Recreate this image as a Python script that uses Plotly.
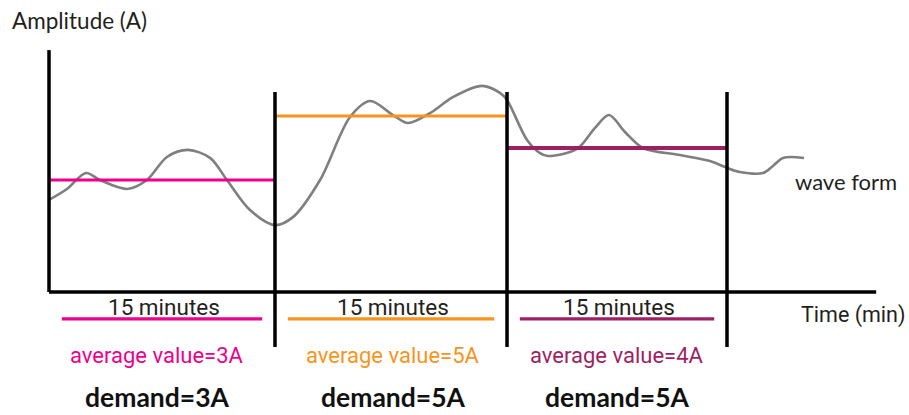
import plotly.graph_objects as go

# ---- data (time in minutes, amplitude in A) ----
wave_t = [0.00, 1.19, 2.46, 3.38, 5.18, 6.50, 7.83, 9.23, 10.69, 11.81, 13.34, 15.00,
          16.19, 17.99, 19.98, 21.31, 22.83, 23.83, 25.29, 26.81, 28.74, 29.93, 30.40,
          31.73, 32.59, 33.12, 35.04, 36.24, 37.17, 38.23, 39.42, 41.88, 43.87, 45.00,
          45.86, 47.39, 48.05, 48.72, 50.11]
wave_a = [2.38, 2.72, 3.22, 3.00, 2.72, 3.00, 3.72, 3.94, 3.69, 3.00, 2.06, 1.59,
          1.84, 3.00, 4.97, 5.47, 5.03, 4.78, 5.09, 5.59, 5.94, 5.72, 5.50,
          4.25, 3.84, 3.75, 3.97, 4.63, 5.03, 4.50, 4.00, 3.78, 3.59, 3.38,
          3.25, 3.22, 3.44, 3.69, 3.69]

boundaries = [0.0, 15.0, 30.4, 45.0]          # interval edges (min)
averages = [3, 5, 4]                          # average value per interval (A)
demands = [3, 5, 5]                           # demand per interval (A)
interval_labels = ["15 minutes", "15 minutes", "15 minutes"]
avg_colors = ["#EC008C", "#F7941D", "#9E1F63"]

x_axis_end = 54.9
y_axis_top = 7.06
axis_level = -0.5
divider_top = 5.75
divider_bottom = -2.22

fig = go.Figure()

# waveform
fig.add_trace(go.Scatter(x=wave_t, y=wave_a, mode="lines",
                         line=dict(color="#7f7f7f", width=2.6, shape="spline", smoothing=0.9),
                         hoverinfo="skip", showlegend=False))

# average lines
avg_widths = [3.2, 3.2, 3.8]
for i in range(3):
    fig.add_trace(go.Scatter(x=[boundaries[i], boundaries[i + 1]], y=[averages[i], averages[i]],
                             mode="lines", line=dict(color=avg_colors[i], width=avg_widths[i]),
                             hoverinfo="skip", showlegend=False))

shapes = []
# axes
shapes.append(dict(type="line", xref="x", yref="y", x0=0, x1=0, y0=axis_level, y1=y_axis_top,
                   line=dict(color="black", width=3.5)))
shapes.append(dict(type="line", xref="x", yref="y", x0=0, x1=x_axis_end, y0=axis_level, y1=axis_level,
                   line=dict(color="black", width=3.5)))
# dividers
for b in boundaries[1:]:
    shapes.append(dict(type="line", xref="x", yref="y", x0=b, x1=b, y0=divider_bottom, y1=divider_top,
                       line=dict(color="black", width=3.5)))
# coloured underlines
inset = 0.85
for i in range(3):
    shapes.append(dict(type="line", xref="x", yref="y", x0=boundaries[i] + inset,
                       x1=boundaries[i + 1] - inset, y0=-1.34, y1=-1.34,
                       line=dict(color=avg_colors[i], width=3.2)))

ann = []
ann.append(dict(x=-2.59, y=8.0, text="Amplitude (A)", xanchor="left", yanchor="middle",
                font=dict(family="Lato", size=22.5, color="#231F20")))
ann.append(dict(x=49.38, y=2.94, text="wave form", xanchor="left", yanchor="middle",
                font=dict(family="Lato", size=22, color="#231F20")))
ann.append(dict(x=49.78, y=-1.22, text="Time (min)", xanchor="left", yanchor="middle",
                font=dict(family="Roboto", size=21.5, color="#231F20")))
label_shift = [-0.3, 0.15, 0.0]
for i in range(3):
    mid = (boundaries[i] + boundaries[i + 1]) / 2
    ann.append(dict(x=mid + 0.1, y=-0.97, text=interval_labels[i], xanchor="center", yanchor="middle",
                    font=dict(family="Roboto", size=22.5, color="#231F20")))
    ann.append(dict(x=mid + label_shift[i], y=-2.5, text=f"average value={averages[i]}A",
                    xanchor="center", yanchor="middle",
                    font=dict(family="Roboto", size=22, color=avg_colors[i])))
    ann.append(dict(x=mid + label_shift[i], y=-4.344, text=f"<b>demand={demands[i]}A</b>",
                    xanchor="center", yanchor="bottom",
                    font=dict(family="Lato", size=26.5, color="#111111")))
for a in ann:
    a.update(xref="x", yref="y", showarrow=False)

fig.update_layout(
    width=909, height=415,
    margin=dict(l=0, r=0, t=0, b=0),
    paper_bgcolor="white", plot_bgcolor="white",
    xaxis=dict(range=[-3.252, 57.08], visible=False, fixedrange=True),
    yaxis=dict(range=[-4.344, 8.625], visible=False, fixedrange=True),
    shapes=shapes, annotations=ann, showlegend=False,
)

fig.write_html("out.html", config={"displayModeBar": False},
               post_script="document.body.style.margin='0px';document.body.style.overflow='hidden';")
